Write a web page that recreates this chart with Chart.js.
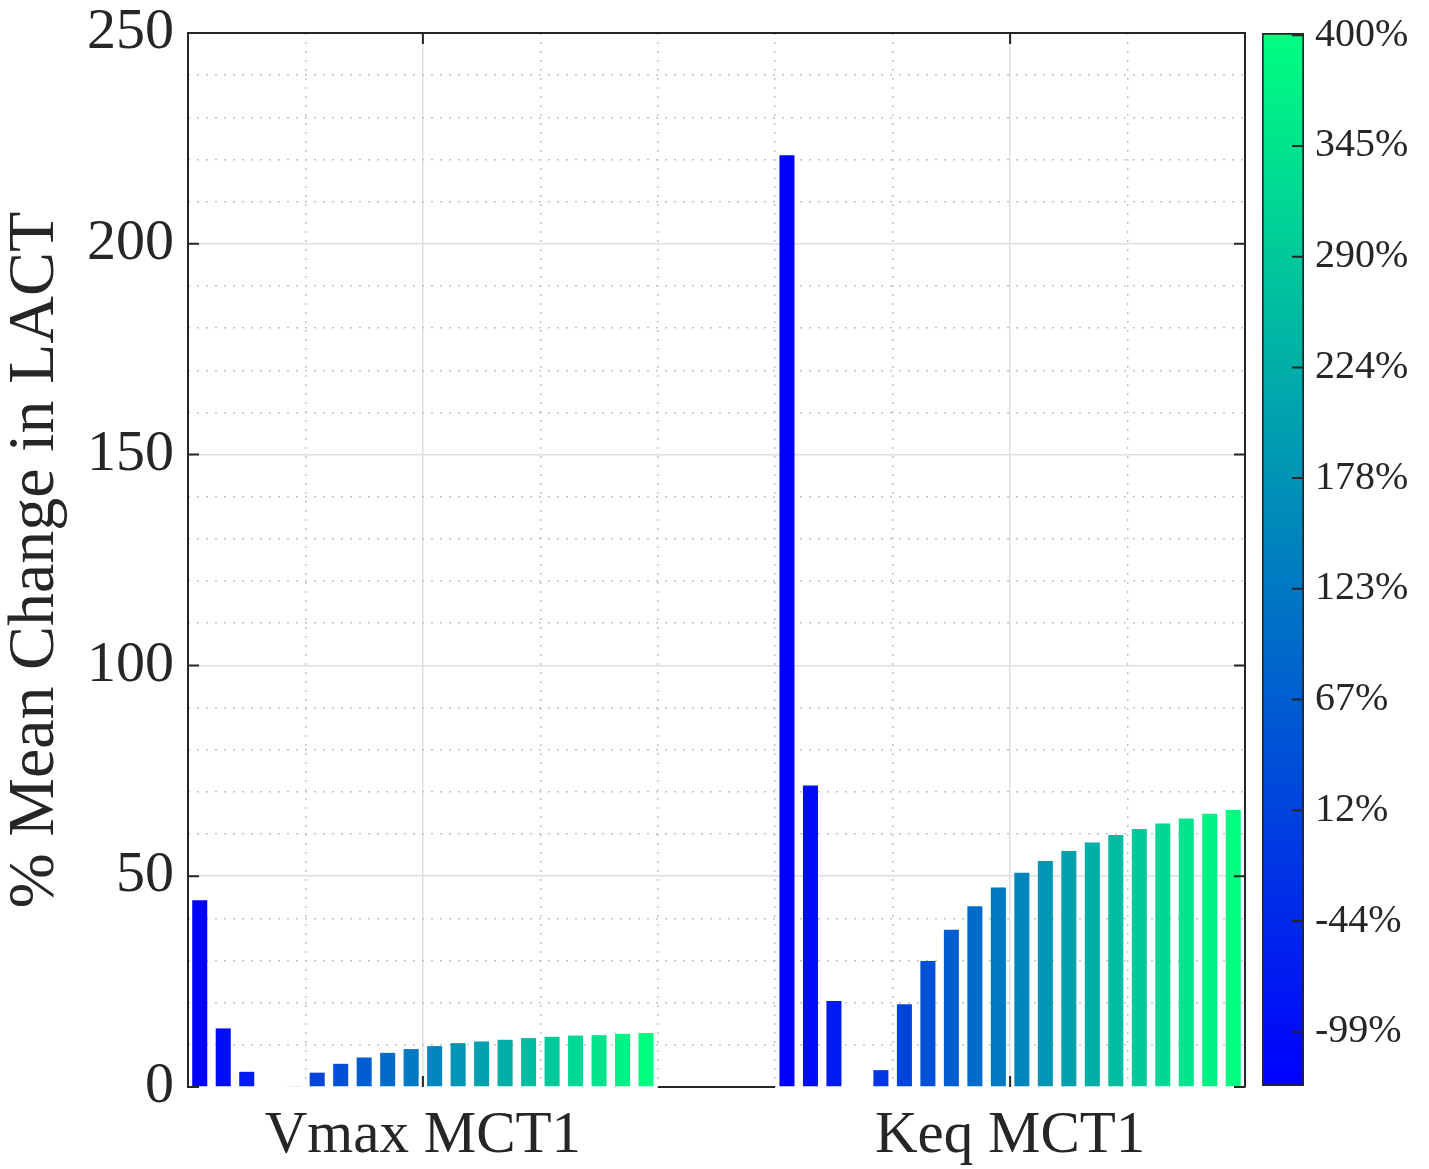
<!DOCTYPE html>
<html>
<head>
<meta charset="utf-8">
<script src="https://cdn.jsdelivr.net/npm/chart.js@4.4.1/dist/chart.umd.min.js"></script>
<style>
  html, body { margin: 0; padding: 0; background: #fff; }
  #wrap { position: relative; width: 1429px; height: 1169px; }
  #chart { position: absolute; left: 0; top: 0; }
  #cbar { position: absolute; left: 1250px; top: 0; }
</style>
</head>
<body>
<div id="wrap">
  <canvas id="chart" width="1429" height="1169"></canvas>
  <canvas id="cbar" width="179" height="1169"></canvas>
</div>
<script>
var categories = ['Vmax MCT1', 'Keq MCT1'];
var categoryPos = [1, 2];
var vmaxValues = [44.3, 13.9, 3.6, 0, 0.2, 3.4, 5.5, 7.0, 8.1, 9.0, 9.7, 10.4, 10.8, 11.2, 11.6, 11.9, 12.2, 12.3, 12.6, 12.8];
var keqValues = [221, 71.5, 20.4, 0, 4.0, 19.6, 29.9, 37.3, 42.9, 47.3, 50.8, 53.6, 56.0, 58.0, 59.8, 61.2, 62.5, 63.7, 64.8, 65.7];
var yTicks = [0, 50, 100, 150, 200, 250];
var yMinorTicks = [10, 20, 30, 40, 60, 70, 80, 90, 110, 120, 130, 140, 160, 170, 180, 190, 210, 220, 230, 240];
var xMinorTicks = [0.8, 1.2, 1.4, 1.6, 1.8, 2.2];
var cbarLabels = ['-99%', '-44%', '12%', '67%', '123%', '178%', '224%', '290%', '345%', '400%'];

var serif = "'Liberation Serif', 'Times New Roman', serif";
var textColor = '#262626';

// matlab "winter" colormap
function winter(t) {
    var g = Math.round(255 * t);
    var b = Math.round(255 * (1 - 0.5 * t));
    return 'rgb(0,' + g + ',' + b + ')';
}

var nBars = vmaxValues.length;
var datasets = [];
for (var i = 0; i < nBars; i++) {
    datasets.push({
        data: [
            { x: categoryPos[0], y: vmaxValues[i] },
            { x: categoryPos[1], y: keqValues[i] }
        ],
        backgroundColor: winter(i / (nBars - 1)),
        borderWidth: 0,
        barPercentage: 0.64,
        categoryPercentage: 0.8
    });
}

function noPad(s) {
    s.paddingTop = 0;
    s.paddingBottom = 0;
    s.paddingLeft = 0;
    s.paddingRight = 0;
}

var framePlugin = {
    id: 'frame',
    beforeDatasetsDraw: function (chart) {
        // baseline is hidden under the bar groups
        var ctx = chart.ctx, a = chart.chartArea, xs = chart.scales.x;
        ctx.save();
        ctx.strokeStyle = '#ffffff';
        ctx.lineWidth = 3;
        ctx.beginPath();
        categoryPos.forEach(function (c) {
            ctx.moveTo(Math.max(a.left + 2, xs.getPixelForValue(c - 0.4)), a.bottom);
            ctx.lineTo(Math.min(a.right - 2, xs.getPixelForValue(c + 0.4)), a.bottom);
        });
        ctx.stroke();
        ctx.restore();
    },
    afterDatasetsDraw: function (chart) {
        var ctx = chart.ctx, a = chart.chartArea, xs = chart.scales.x, ys = chart.scales.y;
        ctx.save();
        ctx.strokeStyle = textColor;
        ctx.lineWidth = 2;
        ctx.beginPath();
        ctx.moveTo(a.left, a.top);
        ctx.lineTo(a.right, a.top);
        ctx.lineTo(a.right, a.bottom);
        yTicks.forEach(function (v) {
            var p = ys.getPixelForValue(v);
            ctx.moveTo(a.left, p); ctx.lineTo(a.left + 11, p);
            ctx.moveTo(a.right, p); ctx.lineTo(a.right - 11, p);
        });
        categoryPos.forEach(function (v) {
            var p = xs.getPixelForValue(v);
            ctx.moveTo(p, a.top); ctx.lineTo(p, a.top + 11);
            ctx.moveTo(p, a.bottom); ctx.lineTo(p, a.bottom - 11);
        });
        ctx.stroke();
        ctx.restore();
    }
};

var chart = new Chart(document.getElementById('chart'), {
    type: 'bar',
    data: { datasets: datasets },
    options: {
        responsive: false,
        animation: false,
        devicePixelRatio: 1,
        layout: { padding: { left: 0, top: 33, right: 184, bottom: 0 } },
        plugins: { legend: { display: false }, tooltip: { enabled: false } },
        scales: {
            x: {
                type: 'linear', min: 0.6, max: 2.4, offset: false,
                afterBuildTicks: function (s) {
                    s.ticks = categoryPos.map(function (v) { return { value: v }; });
                },
                ticks: {
                    callback: function (v) { return categories[categoryPos.indexOf(v)] || ''; },
                    font: { family: serif, size: 59, lineHeight: 1.2 },
                    color: textColor, padding: 14, maxRotation: 0, autoSkip: false
                },
                grid: { color: '#dfdfdf', lineWidth: 1.5, drawTicks: false, offset: false },
                border: { color: textColor, width: 2 },
                afterFit: function (s) { s.height = 82; noPad(s); }
            },
            xMinor: {
                axis: 'x', type: 'linear', position: 'bottom', min: 0.6, max: 2.4, offset: false,
                afterBuildTicks: function (s) {
                    s.ticks = xMinorTicks.map(function (v) { return { value: v }; });
                },
                ticks: { display: false },
                grid: { color: '#c4c4c4', lineWidth: 1.5, drawTicks: false, offset: false },
                border: { display: false, dash: [2, 7] },
                afterFit: function (s) { s.height = 0; noPad(s); }
            },
            y: {
                min: 0, max: 250,
                afterBuildTicks: function (s) {
                    s.ticks = yTicks.map(function (v) { return { value: v }; });
                },
                ticks: {
                    font: { family: serif, size: 58, lineHeight: 1.0 },
                    color: textColor, padding: 14, autoSkip: false
                },
                grid: { color: '#dfdfdf', lineWidth: 1.5, drawTicks: false },
                border: { color: textColor, width: 2 },
                title: {
                    display: true, text: '% Mean Change in LACT',
                    font: { family: serif, size: 66, lineHeight: 1.0 },
                    color: textColor, padding: { top: 3, bottom: 0 }
                },
                afterFit: function (s) { s.width = 188; noPad(s); }
            },
            yMinor: {
                axis: 'y', type: 'linear', position: 'left', min: 0, max: 250,
                afterBuildTicks: function (s) {
                    s.ticks = yMinorTicks.map(function (v) { return { value: v }; });
                },
                ticks: { display: false },
                grid: { color: '#c4c4c4', lineWidth: 1.5, drawTicks: false },
                border: { display: false, dash: [2, 7] },
                afterFit: function (s) { s.width = 0; noPad(s); }
            }
        }
    },
    plugins: [framePlugin]
});

// colorbar
var cbarMin = -0.49;
var cbarMax = 9.02;

var cbarTicksPlugin = {
    id: 'cbarTicks',
    afterDatasetsDraw: function (c) {
        var ctx = c.ctx, a = c.chartArea, ys = c.scales.y;
        ctx.save();
        ctx.strokeStyle = textColor;
        ctx.lineWidth = 2;
        ctx.beginPath();
        cbarLabels.forEach(function (l, i) {
            var p = ys.getPixelForValue(i);
            ctx.moveTo(a.right - 1, p);
            ctx.lineTo(a.right - 12, p);
        });
        ctx.stroke();
        ctx.restore();
    }
};

var cbar = new Chart(document.getElementById('cbar'), {
    type: 'bar',
    data: {
        labels: [''],
        datasets: [{
            data: [[cbarMin, cbarMax]],
            backgroundColor: function (c) {
                var a = c.chart.chartArea;
                if (!a) return winter(0);
                var g = c.chart.ctx.createLinearGradient(0, a.bottom, 0, a.top);
                g.addColorStop(0, winter(0));
                g.addColorStop(1, winter(1));
                return g;
            },
            borderColor: textColor,
            borderWidth: 2,
            borderSkipped: false,
            barPercentage: 1,
            categoryPercentage: 1
        }]
    },
    options: {
        responsive: false,
        animation: false,
        devicePixelRatio: 1,
        layout: { padding: { left: 12, top: 33, right: 0, bottom: 83 } },
        plugins: { legend: { display: false }, tooltip: { enabled: false } },
        scales: {
            x: { display: false },
            y: {
                position: 'right', min: cbarMin, max: cbarMax,
                afterBuildTicks: function (s) {
                    s.ticks = cbarLabels.map(function (l, i) { return { value: i }; });
                },
                ticks: {
                    callback: function (v) { return cbarLabels[v]; },
                    font: { family: serif, size: 40, lineHeight: 1.0 },
                    color: textColor, padding: 11, autoSkip: false
                },
                grid: { display: false, drawTicks: false },
                border: { display: false },
                afterFit: function (s) { s.width = 125; noPad(s); }
            }
        }
    },
    plugins: [cbarTicksPlugin]
});
</script>
</body>
</html>
